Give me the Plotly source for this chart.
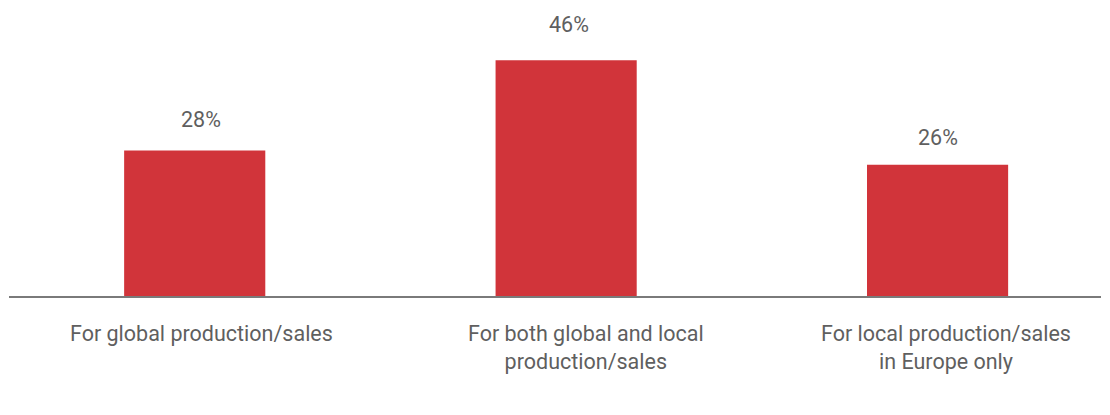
import plotly.graph_objects as go

categories = ["For global production/sales",
              "For both global and local<br>production/sales",
              "For local production/sales<br>in Europe only"]
values = [28.4, 46.0, 25.6]
value_labels = ["28%", "46%", "26%"]

# styling: small per-label nudges observed in the reference
value_label_dx = [6.5, 3, 0]
value_label_dy = [31, 36, 27.5]
category_label_dx = [7, 20, 8.5]

BAR_COLOR = "#D1343A"
TEXT_COLOR = "#5f5f5f"
FONT = "Roboto"
FSIZE = 21.5

fig = go.Figure()
fig.add_trace(go.Bar(
    x=categories, y=values,
    marker=dict(color=BAR_COLOR, line=dict(width=0)),
    width=0.38,
    text=value_labels,
    textposition="none",
    hoverinfo="skip",
))

for c, v, t, dx, dy in zip(categories, values, value_labels,
                           value_label_dx, value_label_dy):
    fig.add_annotation(x=c, y=v, text=t, showarrow=False,
                       yanchor="middle", xshift=dx, yshift=dy,
                       font=dict(family=FONT, size=FSIZE, color=TEXT_COLOR))

for c, dx in zip(categories, category_label_dx):
    fig.add_annotation(x=c, xref="x", y=0, yref="paper", text=c,
                       showarrow=False, yanchor="top", xanchor="center",
                       align="center", xshift=dx, yshift=-22.5,
                       font=dict(family=FONT, size=FSIZE, color=TEXT_COLOR))

fig.update_layout(
    width=1102, height=407,
    margin=dict(l=1, r=9, t=1, b=119),
    paper_bgcolor="white", plot_bgcolor="white",
    showlegend=False,
    font=dict(family=FONT, size=FSIZE, color=TEXT_COLOR),
)
fig.update_xaxes(
    type="category",
    range=[-0.5, 2.44],
    showline=True, linecolor="#7a7a7a", linewidth=1.5,
    showgrid=False, zeroline=False, ticks="",
    showticklabels=False,
)
fig.update_yaxes(
    range=[0, 56], visible=False, showgrid=False, zeroline=False,
)

fig.write_html("out.html")
